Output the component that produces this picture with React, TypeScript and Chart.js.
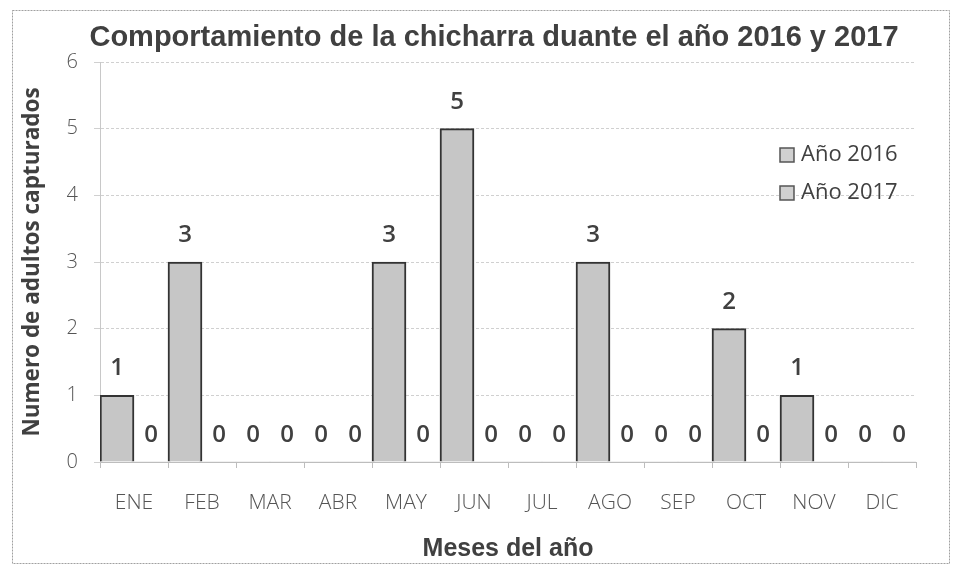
import React, { useEffect, useRef } from "react";
import { Chart, registerables } from "chart.js";

Chart.register(...registerables);

const months = ["ENE", "FEB", "MAR", "ABR", "MAY", "JUN", "JUL", "AGO", "SEP", "OCT", "NOV", "DIC"];
const values2016 = [1, 3, 0, 0, 3, 5, 0, 3, 0, 2, 1, 0];
const values2017 = [0, 0, 0, 0, 0, 0, 0, 0, 0, 0, 0, 0];
const seriesNames = ["Año 2016", "Año 2017"];
const chartTitle = "Comportamiento de la chicharra duante el año 2016 y 2017";
const yTitle = "Numero de adultos capturados";
const xTitle = "Meses del año";
const yMin = 0;
const yMax = 6;

const BAR_FILL = "#c6c6c6";
const BAR_EDGE = "#333333";
const TEXT = "#404040";

const valueLabels = {
  id: "valueLabels",
  afterDatasetsDraw(chart: any) {
    const ctx = chart.ctx;
    ctx.save();
    ctx.font = "600 24px 'Open Sans'";
    ctx.fillStyle = TEXT;
    ctx.textAlign = "center";
    ctx.textBaseline = "middle";
    chart.data.datasets.forEach((ds: any, i: number) => {
      const meta = chart.getDatasetMeta(i);
      meta.data.forEach((el: any, j: number) => {
        ctx.fillText(String(ds.data[j]), el.x, el.y - 27);
      });
    });
    ctx.restore();
  },
};

const insideLegend = {
  id: "insideLegend",
  afterDraw(chart: any) {
    const ctx = chart.ctx;
    const a = chart.chartArea;
    ctx.save();
    ctx.font = "22px 'Open Sans'";
    ctx.textBaseline = "middle";
    ctx.textAlign = "left";
    chart.data.datasets.forEach((ds: any, i: number) => {
      const x = a.right - 136;
      const y = a.top + 93 + i * 38;
      ctx.fillStyle = "#d0d0d0";
      ctx.fillRect(x, y - 7, 14, 14);
      ctx.strokeStyle = "#555";
      ctx.lineWidth = 1.5;
      ctx.strokeRect(x, y - 7, 14, 14);
      ctx.fillStyle = TEXT;
      ctx.fillText(ds.label, x + 21, y);
    });
    ctx.restore();
  },
};

const titleText = {
  id: "titleText",
  afterDraw(chart: any) {
    const ctx = chart.ctx;
    const a = chart.chartArea;
    ctx.save();
    ctx.font = "bold 29px 'Liberation Sans'";
    ctx.fillStyle = TEXT;
    ctx.textAlign = "center";
    ctx.textBaseline = "middle";
    ctx.fillText(chartTitle, (a.left + a.right) / 2 - 14, a.top - 24);
    ctx.restore();
  },
};

const frame = {
  id: "frame",
  beforeDraw(chart: any) {
    const ctx = chart.ctx;
    ctx.save();
    ctx.fillStyle = "#ffffff";
    ctx.fillRect(0, 0, chart.width, chart.height);
    ctx.restore();
  },
  afterDraw(chart: any) {
    const ctx = chart.ctx;
    ctx.save();
    ctx.strokeStyle = "#a0a0a0";
    ctx.lineWidth = 1;
    ctx.setLineDash([2, 1]);
    ctx.strokeRect(4.5, 2.5, chart.width - 9, chart.height - 5);
    ctx.restore();
  },
};

export default function App() {
  const ref = useRef<HTMLCanvasElement | null>(null);
  useEffect(() => {
    if (!ref.current) return;
    const chart = new Chart(ref.current, {
      type: "bar",
      data: {
        labels: months,
        datasets: [
          {
            label: seriesNames[0],
            data: values2016,
            backgroundColor: BAR_FILL,
            borderColor: BAR_EDGE,
            borderWidth: (c: any) => (c.raw === 0 ? 0 : 2),
            categoryPercentage: 1,
            barPercentage: 1,
          },
          {
            label: seriesNames[1],
            data: values2017,
            backgroundColor: BAR_FILL,
            borderColor: BAR_EDGE,
            borderWidth: (c: any) => (c.raw === 0 ? 0 : 2),
            categoryPercentage: 1,
            barPercentage: 1,
          },
        ],
      },
      options: {
        animation: false,
        responsive: false,
        maintainAspectRatio: false,
        layout: { padding: { left: 9, right: 38, top: 54, bottom: 0 } },
        plugins: {
          legend: { display: false },
          tooltip: { enabled: false },
          title: { display: false },
        },
        scales: {
          x: {
            grid: {
              offset: true,
              drawOnChartArea: false,
              drawTicks: true,
              tickLength: 6,
              color: "#bdbdbd",
            },
            border: { display: true, color: "#bdbdbd" },
            ticks: {
              color: "#555555",
              font: { family: "Open Sans", size: 21, weight: "300" },
              padding: 22,
            },
            title: {
              display: true,
              text: xTitle,
              color: TEXT,
              font: { family: "Liberation Sans", size: 25, weight: "bold" },
              padding: { top: 4, bottom: 2 },
            },
            afterFit: (s: any) => {
              s.height = 104;
            },
          },
          y: {
            min: yMin,
            max: yMax,
            ticks: {
              stepSize: 1,
              color: "#555555",
              font: { family: "Open Sans", size: 20, weight: "300" },
              padding: 16,
            },
            grid: {
              color: "#d0d0d0",
              tickLength: 6,
              drawTicks: true,
            },
            border: { display: true, color: "#c8c8c8", dash: [3, 2] },
            title: {
              display: true,
              text: yTitle,
              color: TEXT,
              font: { family: "Open Sans", size: 22.5, weight: "bold" },
              padding: { top: 2, bottom: 4 },
            },
            afterFit: (s: any) => {
              s.width = 83;
            },
          },
        },
      },
      plugins: [frame, valueLabels, insideLegend, titleText],
    } as any);
    return () => chart.destroy();
  }, []);
  return (
    <div style={{ width: 946, height: 558 }}>
      <canvas ref={ref} width={946} height={558} style={{ display: "block" }} />
    </div>
  );
}
